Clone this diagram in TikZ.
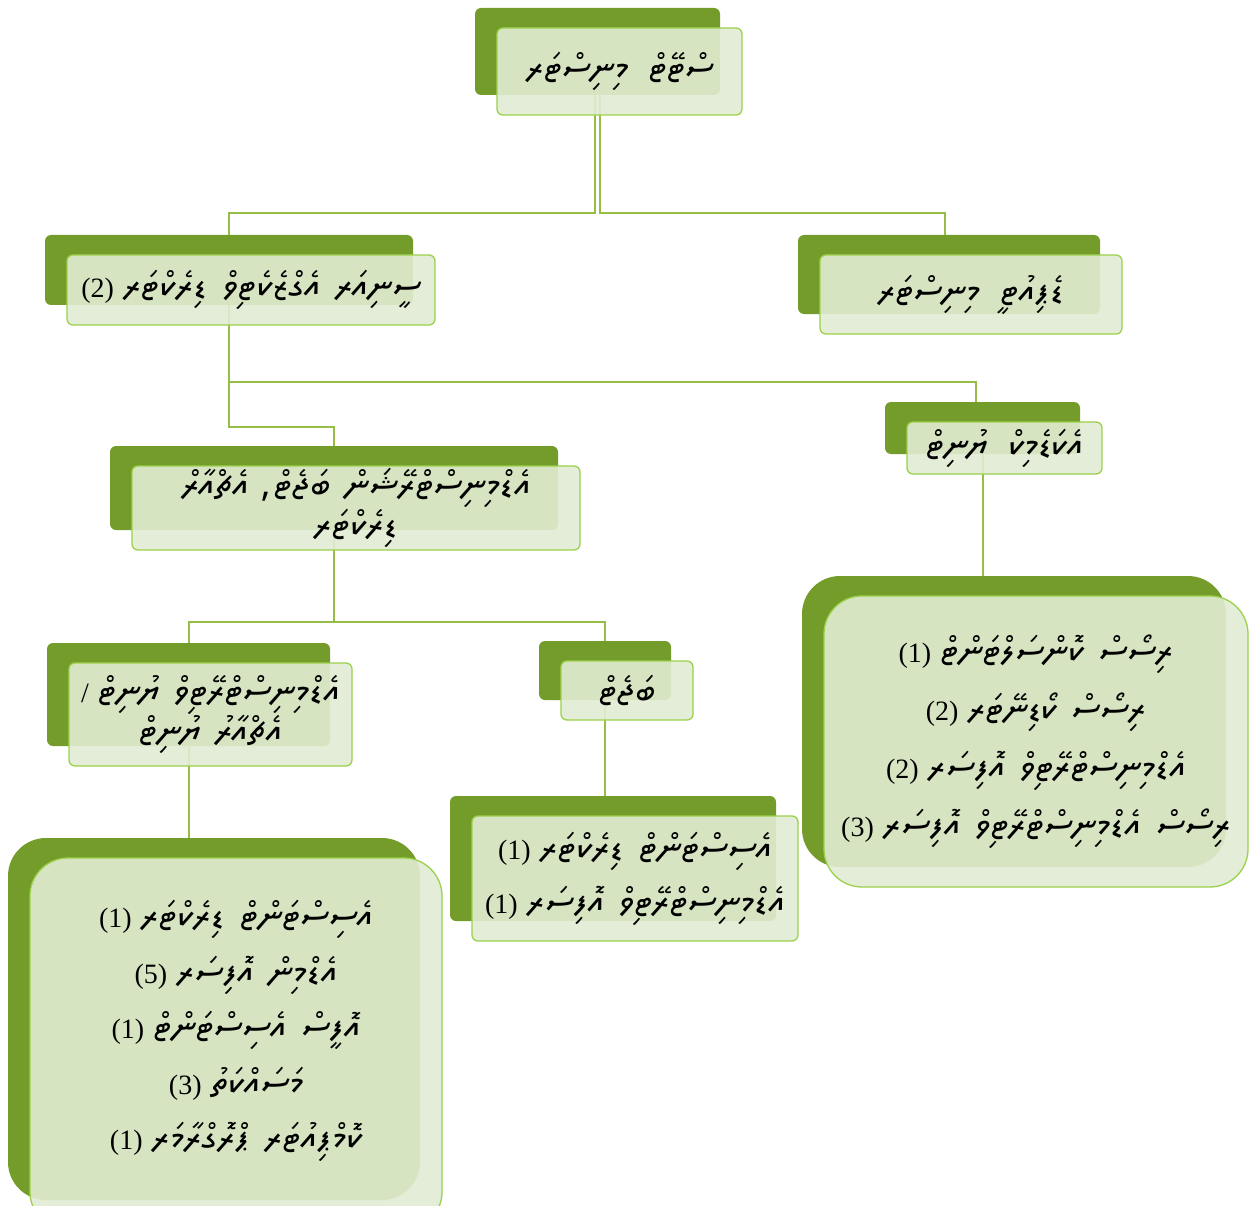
\documentclass[tikz,border=0pt]{standalone}
\usepackage{fontspec}
\setmainfont{Liberation Serif}
\TeXXeTstate=1
\newfontfamily\thaana[Script=Thaana,WordSpace=1.5]{Noto Sans Thaana}
\newcommand\dv[1]{{\thaana\fontsize{37}{40}\selectfont\beginR #1\endR}}
\newcommand\nm[1]{(#1)\hspace{9pt}}
\lineskiplimit=-100pt
\definecolor{olivedk}{RGB}{116,156,42}
\definecolor{frontfill}{RGB}{226,236,211}
\definecolor{frontline}{RGB}{155,209,75}
\definecolor{linkc}{RGB}{150,190,70}
\begin{document}
\begin{tikzpicture}[x=1pt,y=-1pt,
  back/.style={fill=olivedk, draw=none, rounded corners=6pt, inner sep=0pt},
  front/.style={fill=frontfill, fill opacity=0.9, text opacity=1, draw=frontline,
    line width=1.3pt, rounded corners=6pt, inner sep=0pt, align=center,
    font=\fontsize{28}{40}\selectfont},
  bigr/.style={rounded corners=38pt},
  txt/.style={align=center, inner sep=0pt, font=\fontsize{28}{40}\selectfont},
  link/.style={draw=linkc, line width=2pt}]
\useasboundingbox (0,0) rectangle (1250,1206);
\fill[white] (0,0) rectangle (1250,1206);
% back boxes
\node[back, minimum width=245, minimum height=87] (tB) at (597.5,51.5) {};
\node[back, minimum width=302, minimum height=79] (dB) at (949,274.5) {};
\node[back, minimum width=368, minimum height=70] (sB) at (229,270) {};
\node[back, minimum width=195, minimum height=52] (aB) at (982.5,428) {};
\node[back, minimum width=448, minimum height=84] (eB) at (334,488) {};
\node[back, minimum width=283, minimum height=103] (uB) at (188.5,694.5) {};
\node[back, minimum width=132, minimum height=59] (bB) at (605,670.5) {};
\node[back, minimum width=326, minimum height=125] (mB) at (613,858.5) {};
\node[back, bigr, minimum width=424, minimum height=291] (rB) at (1014,721.5) {};
\node[back, bigr, minimum width=412, minimum height=362] (lB) at (214,1019) {};
% bar heights
\coordinate (bar1) at (0,213);
\coordinate (bar2) at (0,382);
\coordinate (bar3) at (0,427);
\coordinate (bar4) at (0,622);
% connectors
\draw[link] ([xshift=-2.5]tB.south) -- ([xshift=-2.5]tB.south |- bar1) -| (sB.north);
\draw[link] ([xshift=2.5]tB.south) -- ([xshift=2.5]tB.south |- bar1) -| ([xshift=-4]dB.north);
\draw[link] (sB.south) -- (sB.south |- bar2) -| ([xshift=-7]aB.north);
\draw[link] (sB.south) -- (sB.south |- bar3) -| (eB.north);
\draw[link] (aB.south) -- (aB.south |- rB.north);
\draw[link] (eB.south) -- (eB.south |- bar4) -| (uB.north);
\draw[link] (eB.south |- bar4) -| (bB.north);
\draw[link] (uB.south) -- (uB.south |- lB.north);
\draw[link] (bB.south) -- (bB.south |- mB.north);
% front boxes
\node[front, minimum width=245, minimum height=87] (t) at (619.5,71.5) {\dv{ސްޓޭޓް\hspace{6pt} މިނިސްޓަރ}};
\node[front, minimum width=302, minimum height=79] (d) at (971,294.5) {\dv{ޑެޕިއުޓީ\hspace{6pt} މިނިސްޓަރ}};
\node[front, minimum width=368, minimum height=70] (s) at (251,290) {\nm{2}\dv{ސީނިއަރ އެގްޒެކެޓިވް ޑިރެކްޓަރ}};
\node[front, minimum width=195, minimum height=52] (a) at (1004.5,448) {\dv{އެކަޑެމިކް\hspace{6pt} ޔުނިޓް}};
\node[front, minimum width=448, minimum height=84] (e) at (356,508) {\dv{އެޑްމިނިސްޓްރޭޝަން ބަޖެޓް، އެޗްއާރް}\\\dv{ޑިރެކްޓަރ}};
\node[front, minimum width=283, minimum height=103] (u) at (210.5,714.5) {/\hspace{9pt}\dv{އެޑްމިނިސްޓްރޭޓިވް ޔުނިޓް}\\\dv{އެޗްއާރު ޔުނިޓް}};
\node[front, minimum width=132, minimum height=59] (b) at (627,690.5) {\dv{ބަޖެޓް}};
\node[front, minimum width=326, minimum height=125] (m) at (635,878.5) {\nm{1}\dv{އެސިސްޓަންޓް ޑިރެކްޓަރ}\\[14pt]\nm{1}\dv{އެޑްމިނިސްޓްރޭޓިވް އޮފިސަރ}};
\node[front, bigr, minimum width=424, minimum height=291] (r) at (1036,741.5) {\nm{1}\dv{ރިސޯސް ކޮންސަލްޓަންޓް}\\[18pt]\nm{2}\dv{ރިސޯސް ކޯޑިނޭޓަރ}\\[18pt]\nm{2}\dv{އެޑްމިނިސްޓްރޭޓިވް އޮފިސަރ}\\[18pt]\nm{3}\dv{ރިސޯސް އެޑްމިނިސްޓްރޭޓިވް އޮފިސަރ}};
\node[front, bigr, minimum width=412, minimum height=372] (l) at (236,1044) {};
\node[txt] (lt) at (236,1031) {\nm{1}\dv{އެސިސްޓަންޓް ޑިރެކްޓަރ}\\[15.5pt]\nm{5}\dv{އެޑްމިން އޮފިސަރ}\\[15.5pt]\nm{1}\dv{އޮފީސް އެސިސްޓަންޓް}\\[15.5pt]\nm{3}\dv{މަސައްކަތު}\\[15.5pt]\nm{1}\dv{ކޮމްޕިއުޓަރ ޕްރޮގްރާމަރ}};
\end{tikzpicture}
\end{document}
